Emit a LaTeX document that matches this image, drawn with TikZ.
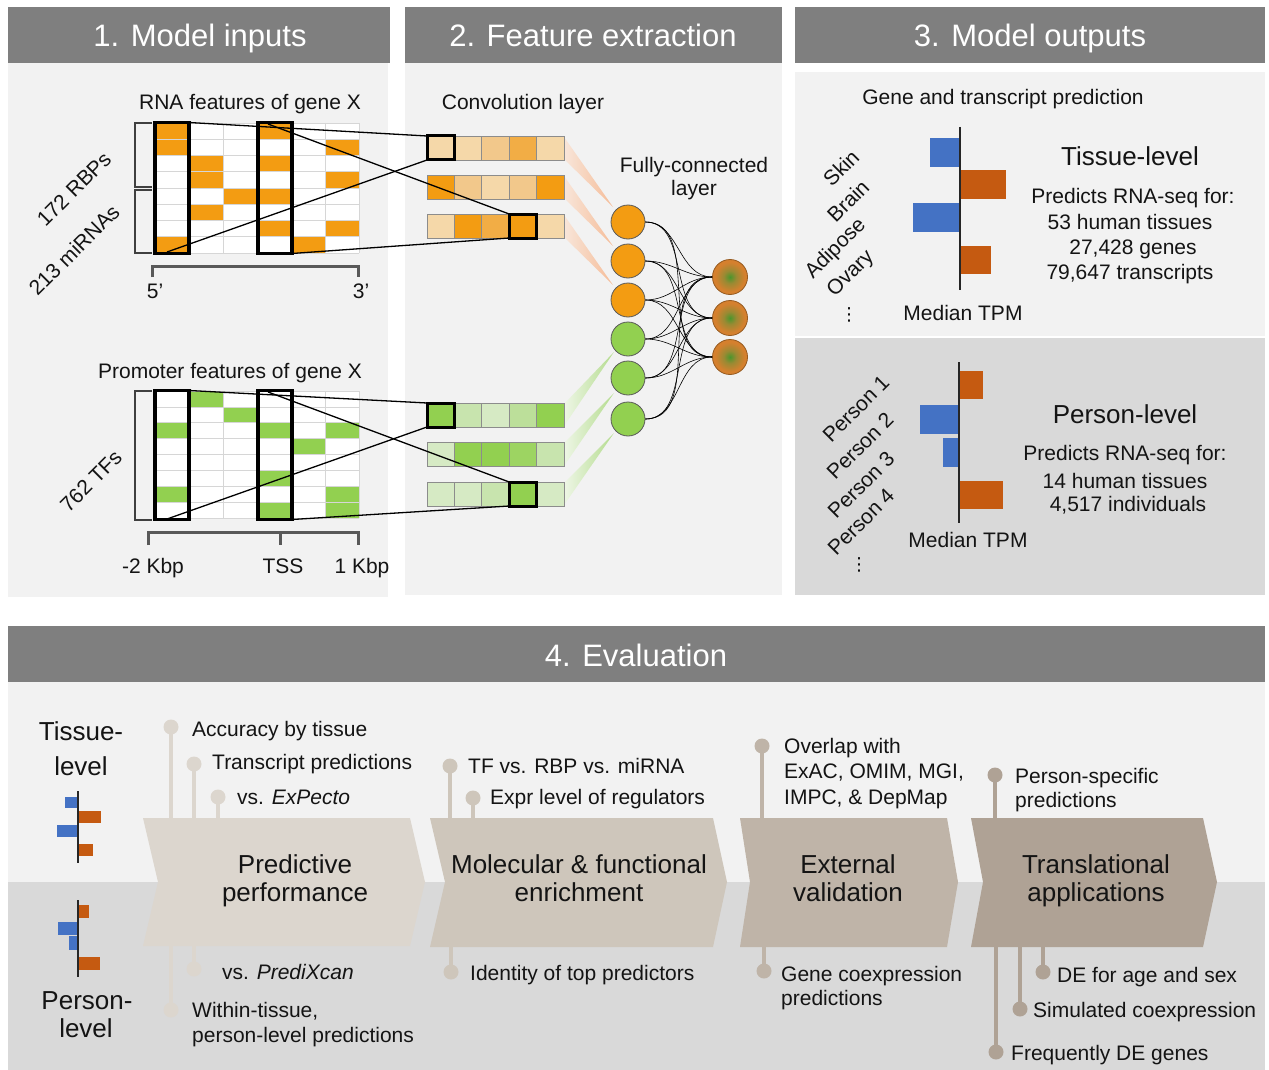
\documentclass[tikz,border=0pt]{standalone}
\usepackage{fontspec}
\setmainfont{Liberation Sans}
\newfontfamily\dejavu{DejaVu Sans}
\definecolor{hdr}{HTML}{7F7F7F}
\definecolor{pl}{HTML}{F2F2F2}
\definecolor{pd}{HTML}{D9D9D9}
\definecolor{org}{HTML}{F39C12}
\definecolor{o1}{HTML}{F5D8A9}
\definecolor{o2}{HTML}{F2C88B}
\definecolor{o3}{HTML}{F2AD45}
\definecolor{grn}{HTML}{92D050}
\definecolor{g1}{HTML}{D6EAC4}
\definecolor{g2}{HTML}{C8E4AE}
\definecolor{g3}{HTML}{BCDF9A}
\definecolor{g4}{HTML}{9DD462}
\definecolor{bblue}{HTML}{4472C4}
\definecolor{borg}{HTML}{C55A11}
\definecolor{ch1}{HTML}{DCD6CE}
\definecolor{ch2}{HTML}{CEC6BB}
\definecolor{ch3}{HTML}{BFB4A8}
\definecolor{ch4}{HTML}{AFA295}
\definecolor{gridc}{HTML}{D6D6D6}
\definecolor{cgreen}{HTML}{4A962C}
\definecolor{cmid}{HTML}{9A8A33}
\definecolor{couter}{HTML}{D5802E}
\definecolor{bmL}{HTML}{F8E6DA}
\definecolor{bmR}{HTML}{F5BC98}
\definecolor{bgL}{HTML}{EEF6E6}
\definecolor{bgR}{HTML}{B4DC8E}
\pgfdeclareradialshading{outshade}{\pgfpoint{0bp}{0bp}}{color(0bp)=(cgreen); color(9bp)=(cmid); color(21bp)=(couter); color(25bp)=(couter); color(50bp)=(couter)}
\begin{document}
\begin{tikzpicture}[x=1pt,y=-1pt,
  txt/.style={font=\fontsize{21}{25}\selectfont, inner sep=0pt, text=black!92},
  bigt/.style={font=\fontsize{26}{30}\selectfont, inner sep=0pt, text=black!92},
  hdrt/.style={font=\fontsize{31}{36}\selectfont, inner sep=0pt, text=white},
  gline/.style={draw=gridc, line width=0.8pt},
  framebox/.style={draw=black, line width=3.5pt, inner sep=0pt, outer sep=0pt, minimum width=34pt},
  cell/.style={draw=black!45, line width=0.8pt, inner sep=0pt, outer sep=0pt, minimum width=27.4pt, minimum height=24pt},
  conn/.style={draw=black, line width=1.3pt},
  hid/.style={circle, draw=black!65, line width=0.8pt, inner sep=0pt, minimum size=34pt},
  outn/.style={circle, draw=couter!70!black, line width=0.8pt, inner sep=0pt, minimum size=35pt, shading=outshade},
  axisl/.style={draw=black!85, line width=1.2pt},
  brk/.style={draw=black!75, line width=1.1pt},
  scalel/.style={draw=black!65, line width=3pt},
  dot/.style={circle, inner sep=0pt, minimum size=15pt},
  stem/.style={line width=4pt}
]
\useasboundingbox (0,0) rectangle (1269,1070);
\fill[white] (0,0) rectangle (1269,1070);

% ---------- panel backgrounds ----------
\fill[pl] (8,63) rectangle (388,597);
\fill[hdr] (8,7) rectangle (390,63);
\fill[pl] (405,63) rectangle (782,595);
\fill[hdr] (405,7) rectangle (782,63);
\fill[pl] (795,72) rectangle (1265,336);
\fill[pd] (795,338) rectangle (1265,595);
\fill[hdr] (795,7) rectangle (1265,63);
\fill[hdr] (8,626) rectangle (1265,682);
\fill[pl] (8,682) rectangle (1265,882);
\fill[pd] (8,882) rectangle (1265,1070);

\node[hdrt, anchor=base] (t1) at (200,47) {1. Model inputs};
\node[hdrt, anchor=base] (t2) at (593,47) {2. Feature extraction};
\node[hdrt, anchor=base] (t3) at (1030,47) {3. Model outputs};
\node[hdrt, anchor=base] (t4) at (636,666) {4. Evaluation};

% ---------- panel 1: RNA grid ----------
\node[txt, anchor=base] (rnat) at (250,110) {RNA features of gene X};
\fill[white] (155,123) rectangle (359,253);
\foreach \c/\r in {0/0,0/1,0/7,1/2,1/3,1/5,2/4,3/0,3/2,3/4,3/6,4/7,5/1,5/3,5/6}
  \fill[org] ({155+34*\c},{123+16.25*\r}) rectangle ++(34,16.25);
\foreach \c in {0,...,6} \draw[gline] ({155+34*\c},123) -- ++(0,130);
\foreach \r in {0,...,8} \draw[gline] (155,{123+16.25*\r}) -- ++(204,0);
\node[framebox, minimum height=131pt] (rf0) at (172,188) {};
\node[framebox, minimum height=131pt] (rf3) at (275,188) {};
\draw[brk] (152,123) -- (135,123) -- (135,187) -- (152,187);
\draw[brk] (152,190) -- (135,190) -- (135,253) -- (152,253);
\node[txt, rotate=45] (rbp) at (74,189) {172 RBPs};
\node[txt, rotate=45] (mir) at (74,250) {213 miRNAs};
\draw[scalel] (152,277) -- (152,266) -- (358,266) -- (358,277);
\node[txt, anchor=base] (p5) at (155,298) {5’};
\node[txt, anchor=base] (p3) at (361,298) {3’};

% ---------- panel 1: promoter grid ----------
\node[txt, anchor=base] (prot) at (230,378) {Promoter features of gene X};
\fill[white] (155,391) rectangle (359,518.2);
\foreach \c/\r in {0/2,0/6,1/0,2/1,3/2,3/5,3/7,4/3,5/2,5/6,5/7}
  \fill[grn] ({155+34*\c},{391+15.9*\r}) rectangle ++(34,15.9);
\foreach \c in {0,...,6} \draw[gline] ({155+34*\c},391) -- ++(0,127.2);
\foreach \r in {0,...,8} \draw[gline] (155,{391+15.9*\r}) -- ++(204,0);
\node[framebox, minimum height=129pt] (pf0) at (172,455) {};
\node[framebox, minimum height=129pt] (pf3) at (275,455) {};
\draw[brk] (152,391) -- (135,391) -- (135,520) -- (152,520);
\node[txt, rotate=45] (tfs) at (91,481) {762 TFs};
\draw[scalel] (148,545) -- (148,532) -- (358,532) -- (358,545);
\draw[scalel] (280,532) -- (280,545);
\node[txt, anchor=base] (km2) at (153,573) {-2 Kbp};
\node[txt, anchor=base] (tss) at (283,573) {TSS};
\node[txt, anchor=base] (kp1) at (362,573) {1 Kbp};

% ---------- panel 2 ----------
\node[txt, anchor=base] (convt) at (523,110) {Convolution layer};
\node[txt, anchor=base] (fct1) at (694,172) {Fully-connected};
\node[txt, anchor=base] (fct2) at (694,195) {layer};

% beams
\shade[left color=bmL, right color=bmR] (564,137) -- (613,207) -- (564,159) -- cycle;
\shade[left color=bmL, right color=bmR] (564,176) -- (613,246) -- (564,198) -- cycle;
\shade[left color=bmL, right color=bmR] (564,215) -- (613,285) -- (564,237) -- cycle;
\shade[left color=bgL, right color=bgR] (564,404) -- (614,352) -- (564,426) -- cycle;
\shade[left color=bgL, right color=bgR] (564,443) -- (614,393) -- (564,466) -- cycle;
\shade[left color=bgL, right color=bgR] (564,483) -- (614,433) -- (564,505) -- cycle;

% conv rows
\foreach \i/\cl in {0/o1,1/o1,2/o2,3/o3,4/o1} \node[cell, fill=\cl] (ca\i) at ({440.7+27.4*\i},148) {};
\foreach \i/\cl in {0/org,1/o2,2/o1,3/o2,4/org} \node[cell, fill=\cl] (cb\i) at ({440.7+27.4*\i},187) {};
\foreach \i/\cl in {0/o1,1/org,2/o3,3/org,4/o1} \node[cell, fill=\cl] (cc\i) at ({440.7+27.4*\i},226) {};
\foreach \i/\cl in {0/grn,1/g2,2/g1,3/g3,4/grn} \node[cell, fill=\cl] (cd\i) at ({440.7+27.4*\i},415) {};
\foreach \i/\cl in {0/g1,1/grn,2/grn,3/g4,4/g2} \node[cell, fill=\cl] (ce\i) at ({440.7+27.4*\i},454.5) {};
\foreach \i/\cl in {0/g1,1/g1,2/g2,3/grn,4/g1} \node[cell, fill=\cl] (cf\i) at ({440.7+27.4*\i},494) {};
\draw[line width=3pt] (ca0.north west) rectangle (ca0.south east);
\draw[line width=3pt] (cc3.north west) rectangle (cc3.south east);
\draw[line width=3pt] (cd0.north west) rectangle (cd0.south east);
\draw[line width=3pt] (cf3.north west) rectangle (cf3.south east);

% connectors grid -> conv
\coordinate (rf0b) at (167,252);
\coordinate (rf3t) at (268,124);
\coordinate (pf0b) at (167,519);
\coordinate (pf3t) at (268,392);
\draw[conn] (rf0.north east) -- (ca0.north west);
\draw[conn] (rf0b) -- (ca0.south west);
\draw[conn] (rf3t) -- (cc3.north west);
\draw[conn] (rf3.south east) -- (cc3.south west);
\draw[conn] (pf0.north east) -- (cd0.north west);
\draw[conn] (pf0b) -- (cd0.south west);
\draw[conn] (pf3t) -- (cf3.north west);
\draw[conn] (pf3.south east) -- (cf3.south west);

% fully connected layer
\node[hid, fill=org] (h1) at (628,222) {};
\node[hid, fill=org] (h2) at (628,261) {};
\node[hid, fill=org] (h3) at (628,300) {};
\node[hid, fill=grn] (h4) at (628,339) {};
\node[hid, fill=grn] (h5) at (628,378) {};
\node[hid, fill=grn] (h6) at (628,419) {};
\node[outn] (q1) at (730,277) {};
\node[outn] (q2) at (730,318) {};
\node[outn] (q3) at (730,357) {};
\foreach \i in {1,...,6} \foreach \j in {1,2,3}
  \draw[line width=0.6pt] (h\i.east) to[out=0,in=180] (q\j.west);

% ---------- panel 3: tissue level ----------
\node[txt, anchor=base] (gtp) at (1003,105) {Gene and transcript prediction};
\fill[bblue] (930,138) rectangle (960,167);
\fill[borg] (960,170) rectangle (1006,199);
\fill[bblue] (913,203) rectangle (960,232);
\fill[borg] (960,246) rectangle (991,274);
\draw[axisl] (960,127) -- (960,290);
\node[txt, rotate=45] (lskin) at (841,168) {Skin};
\node[txt, rotate=45] (lbrain) at (848,201) {Brain};
\node[txt, rotate=45] (ladip) at (836,249) {Adipose};
\node[txt, rotate=45] (lovary) at (851,274) {Ovary};
\node[inner sep=0pt, font=\dejavu\fontsize{18}{20}\selectfont] (vd1) at (849,315) {⋮};
\node[txt, anchor=base] (mtpm1) at (963,320) {Median TPM};
\node[bigt, anchor=base] (tisl) at (1130,165) {Tissue-level};
\node[txt, anchor=base] (pr1) at (1133,203) {Predicts RNA-seq for:};
\node[txt, anchor=base] (pr2) at (1130,229) {53 human tissues};
\node[txt, anchor=base] (pr3) at (1133,254) {27,428 genes};
\node[txt, anchor=base] (pr4) at (1130,279) {79,647 transcripts};

% ---------- panel 3: person level ----------
\fill[borg] (959,371) rectangle (983,399);
\fill[bblue] (920,405) rectangle (959,434);
\fill[bblue] (943,438) rectangle (959,467);
\fill[borg] (959,481) rectangle (1003,509);
\draw[axisl] (959,362) -- (959,523);
\node[txt, rotate=45] (lp1) at (856,409) {Person 1};
\node[txt, rotate=45] (lp2) at (860,446) {Person 2};
\node[txt, rotate=45] (lp3) at (861,485) {Person 3};
\node[txt, rotate=45] (lp4) at (861,522) {Person 4};
\node[inner sep=0pt, font=\dejavu\fontsize{18}{20}\selectfont] (vd2) at (859,565) {⋮};
\node[txt, anchor=base] (mtpm2) at (968,547) {Median TPM};
\node[bigt, anchor=base] (perl) at (1125,423) {Person-level};
\node[txt, anchor=base] (ps1) at (1125,460) {Predicts RNA-seq for:};
\node[txt, anchor=base] (ps2) at (1125,488) {14 human tissues};
\node[txt, anchor=base] (ps3) at (1128,511) {4,517 individuals};

% ---------- panel 4 ----------
\node[bigt, anchor=base] (tl1) at (81,740) {Tissue-};
\node[bigt, anchor=base] (tl2) at (81,775) {level};
\fill[bblue] (65,797) rectangle (78,808);
\fill[borg] (78,811) rectangle (101,823);
\fill[bblue] (57,825) rectangle (78,837);
\fill[borg] (78,844) rectangle (93,856);
\draw[axisl] (78,791) -- (78,863);
\fill[borg] (78,905) rectangle (89,918);
\fill[bblue] (58,922) rectangle (78,935);
\fill[bblue] (69,936) rectangle (78,950);
\fill[borg] (78,957) rectangle (100,970);
\draw[axisl] (78,900) -- (78,977);
\node[bigt, anchor=base] (pl1) at (87,1009) {Person-};
\node[bigt, anchor=base] (pl2) at (86,1037) {level};

% lollipops: dots
\foreach \n/\x/\y/\c in {acc/171/727/ch1, trn/194/764/ch1, exp/218/797/ch1, prx/194/969/ch1, wit/171/1010/ch1,
  tfr/450/766/ch2, exr/473/798/ch2, idn/451/972/ch2,
  ovl/762/746/ch3, gcx/764/971/ch3,
  pss/995/775/ch4, dea/1043/972/ch4, sim/1020/1009/ch4, frq/996/1052/ch4}
  \node[dot, fill=\c] (\n) at (\x,\y) {};
% stem start coordinates on chevrons
\foreach \n/\x/\y in {acc/171/818, trn/194/818, exp/218/818, prx/194/946, wit/171/946,
  tfr/450/818, exr/473/818, idn/451/947, ovl/762/818, gcx/764/947,
  pss/995/818, dea/1043/947, sim/1020/947, frq/996/947}
  \coordinate (\n e) at (\x,\y);
\foreach \n/\c in {acc/ch1, trn/ch1, exp/ch1, prx/ch1, wit/ch1, tfr/ch2, exr/ch2, idn/ch2,
  ovl/ch3, gcx/ch3, pss/ch4, dea/ch4, sim/ch4, frq/ch4}
  \draw[stem, \c] (\n e) -- (\n.center);

% chevrons
\fill[ch1] (143,818) -- (410,818) -- (425,882) -- (410,946) -- (143,946) -- (158,882) -- cycle;
\fill[ch2] (430,818) -- (713,818) -- (727,882) -- (713,947) -- (430,947) -- (445,882) -- cycle;
\fill[ch3] (740,818) -- (947,818) -- (958,882) -- (947,947) -- (740,947) -- (750,882) -- cycle;
\fill[ch4] (971,818) -- (1203,818) -- (1217,882) -- (1203,947) -- (971,947) -- (983,882) -- cycle;
\node[bigt, anchor=base] (c1a) at (295,873) {Predictive};
\node[bigt, anchor=base] (c1b) at (295,901) {performance};
\node[bigt, anchor=base] (c2a) at (579,873) {Molecular \& functional};
\node[bigt, anchor=base] (c2b) at (579,901) {enrichment};
\node[bigt, anchor=base] (c3a) at (848,873) {External};
\node[bigt, anchor=base] (c3b) at (848,901) {validation};
\node[bigt, anchor=base] (c4a) at (1096,873) {Translational};
\node[bigt, anchor=base] (c4b) at (1096,901) {applications};

% lollipop labels
\node[txt, anchor=base west] (lacc) at (192,736) {Accuracy by tissue};
\node[txt, anchor=base west] (ltrn) at (212,769) {Transcript predictions};
\node[txt, anchor=base west] (lexp) at (237,804) {vs. \textit{ExPecto}};
\node[txt, anchor=base west] (lprx) at (222,979) {vs. \textit{PrediXcan}};
\node[txt, anchor=base west] (lwit1) at (192,1017) {Within-tissue,};
\node[txt, anchor=base west] (lwit2) at (192,1042) {person-level predictions};
\node[txt, anchor=base west] (ltfr) at (468,773) {TF vs. RBP vs. miRNA};
\node[txt, anchor=base west] (lexr) at (490,804) {Expr level of regulators};
\node[txt, anchor=base west] (lidn) at (470,980) {Identity of top predictors};
\node[txt, anchor=base west] (lovl1) at (784,753) {Overlap with};
\node[txt, anchor=base west] (lovl2) at (784,778) {ExAC, OMIM, MGI,};
\node[txt, anchor=base west] (lovl3) at (784,804) {IMPC, \& DepMap};
\node[txt, anchor=base west] (lgcx1) at (781,981) {Gene coexpression};
\node[txt, anchor=base west] (lgcx2) at (781,1005) {predictions};
\node[txt, anchor=base west] (lpss1) at (1015,783) {Person-specific};
\node[txt, anchor=base west] (lpss2) at (1015,807) {predictions};
\node[txt, anchor=base west] (ldea) at (1057,982) {DE for age and sex};
\node[txt, anchor=base west] (lsim) at (1033,1017) {Simulated coexpression};
\node[txt, anchor=base west] (lfrq) at (1011,1060) {Frequently DE genes};
\end{tikzpicture}
\end{document}
